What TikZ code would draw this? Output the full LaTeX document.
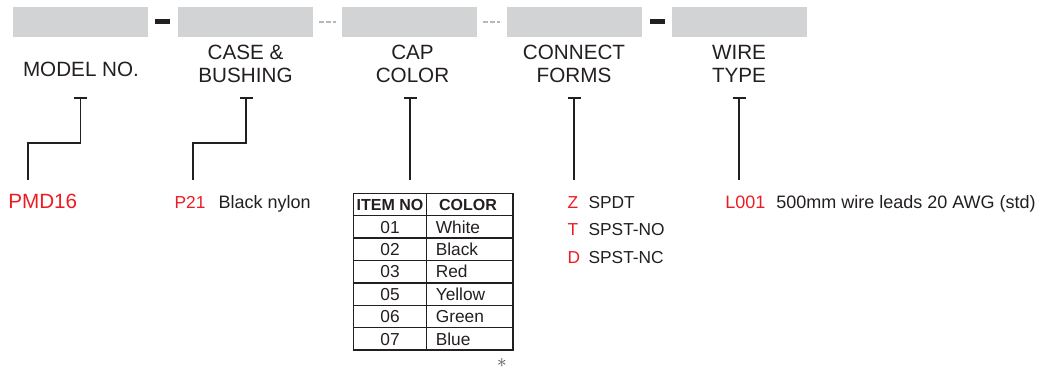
\documentclass[tikz,border=0pt]{standalone}
\usepackage{fontspec}
\setmainfont{Liberation Sans}
\definecolor{boxgray}{HTML}{D1D3D4}
\definecolor{ink}{HTML}{231F20}
\definecolor{codered}{HTML}{ED1C24}
\definecolor{dashgray}{HTML}{B8B8B8}
\begin{document}
\begin{tikzpicture}[x=0.75pt,y=-0.75pt,
  slot/.style={fill=boxgray,draw=none,inner sep=0pt,outer sep=0pt,minimum width=101.25pt,minimum height=22.5pt},
  sepbar/.style={fill=ink,draw=none,inner sep=0pt,minimum width=11.25pt,minimum height=4pt},
  sepdash/.style={draw=dashgray,line width=1.3pt,dash pattern=on 3.8pt off 1.3pt},
  head/.style={text=ink,inner sep=0pt,align=center,font=\fontsize{15.5}{17.25}\selectfont},
  tee/.style={draw=ink,line width=1.4pt},
  conn/.style={draw=ink,line width=1.2pt},
  redval/.style={text=codered,inner sep=0pt,anchor=base west},
  desc/.style={text=ink,inner sep=0pt,anchor=base west},
  tbl/.style={draw=ink,line width=1.1pt},
  tbltxt/.style={text=ink,inner sep=0pt,anchor=base,font=\fontsize{13}{15}\selectfont}
]
\useasboundingbox (0,0) rectangle (1042,371);

% code slots
\node[slot] (b1) at (80.5,22) {};
\node[slot] (b2) at (245.5,22) {};
\node[slot] (b3) at (409.5,22) {};
\node[slot] (b4) at (574.5,22) {};
\node[slot] (b5) at (739.5,22) {};
% separators
\node[sepbar] (s1) at (162.5,21.7) {};
\node[sepbar] (s4) at (657,21.7) {};
\coordinate (s2a) at (319,22);
\coordinate (s2b) at (336,22);
\coordinate (s3a) at (483,22);
\coordinate (s3b) at (500,22);
\draw[sepdash] (s2a) -- (s2b);
\draw[sepdash] (s3a) -- (s3b);

% headers
\node[head] (h1) at (81,69.2) {MODEL NO.};
\node[head] (h2) at (245.5,64.2) {CASE \&\\BUSHING};
\node[head] (h3) at (412.5,64.2) {CAP\\COLOR};
\node[head] (h4) at (574,64.2) {CONNECT\\FORMS};
\node[head] (h5) at (739,64.2) {WIRE\\TYPE};

% tee marks
\coordinate (t1) at (80.5,98);
\coordinate (t2) at (246,98);
\coordinate (t3) at (410,98);
\coordinate (t4) at (574,98);
\coordinate (t5) at (739,98);
\foreach \t in {t1,t2,t3,t4,t5}{
  \draw[tee] (\t) ++(-6.5,0) -- ++(13,0);
}

% connectors
\coordinate (k1) at (28,143);
\coordinate (e1) at (28,180);
\coordinate (k2) at (193,143);
\coordinate (e2) at (193,180);
\coordinate (e3) at (410,180);
\coordinate (e4) at (574,180);
\coordinate (e5) at (739,180);
\draw[conn] (t1) |- (k1) -- (e1);
\draw[conn] (t2) |- (k2) -- (e2);
\draw[conn] (t3) -- (e3);
\draw[conn] (t4) -- (e4);
\draw[conn] (t5) -- (e5);

% values
\node[redval,font=\fontsize{15.5}{18}\selectfont] (v1) at (8,208.3) {PMD16};
\node[redval,font=\fontsize{13}{15}\selectfont] (v2) at (174.3,208.3) {P21};
\node[desc,font=\fontsize{13.5}{15}\selectfont] (d2) at (218.3,208.3) {Black nylon};
\node[redval,font=\fontsize{13}{15}\selectfont] (vz) at (567.3,208.3) {Z};
\node[desc,font=\fontsize{13}{15}\selectfont] (dz) at (588.3,208.3) {SPDT};
\node[redval,font=\fontsize{13}{15}\selectfont] (vt) at (567.3,235.5) {T};
\node[desc,font=\fontsize{13}{15}\selectfont] (dt) at (588.3,235.5) {SPST-NO};
\node[redval,font=\fontsize{13}{15}\selectfont] (vd) at (567.3,263) {D};
\node[desc,font=\fontsize{13}{15}\selectfont] (dd) at (588.3,263) {SPST-NC};
\node[redval,font=\fontsize{13.5}{15}\selectfont] (v5) at (725,208.3) {L001};
\node[desc,font=\fontsize{13.5}{15}\selectfont] (d5) at (776,208.3) {500mm wire leads 20 AWG (std)};

% colour table
\draw[tbl] (353.3,193.3) rectangle (513,350);
\foreach \k in {1,...,6}{
  \draw[tbl] (353.3,193.3+22.4*\k) -- (513,193.3+22.4*\k);
}
\draw[tbl] (426.7,193.3) -- (426.7,350);
\node[tbltxt,font=\bfseries\fontsize{12}{14}\selectfont] (th1) at (390,210.3) {ITEM NO};
\node[tbltxt,font=\bfseries\fontsize{12}{14}\selectfont] (th2) at (468,210.3) {COLOR};
\foreach \k/\n/\c in {1/01/White,2/02/Black,3/03/Red,4/05/Yellow,5/06/Green,6/07/Blue}{
  \node[tbltxt] (n\k) at (390,193.3+22.4*\k+17.3) {\n};
  \node[tbltxt,anchor=base west] (c\k) at (435.5,193.3+22.4*\k+17.3) {\c};
}
\node[text=ink!80,inner sep=0pt,font=\fontsize{14}{16}\selectfont] (ast) at (502,363) {$\ast$};
\end{tikzpicture}
\end{document}
